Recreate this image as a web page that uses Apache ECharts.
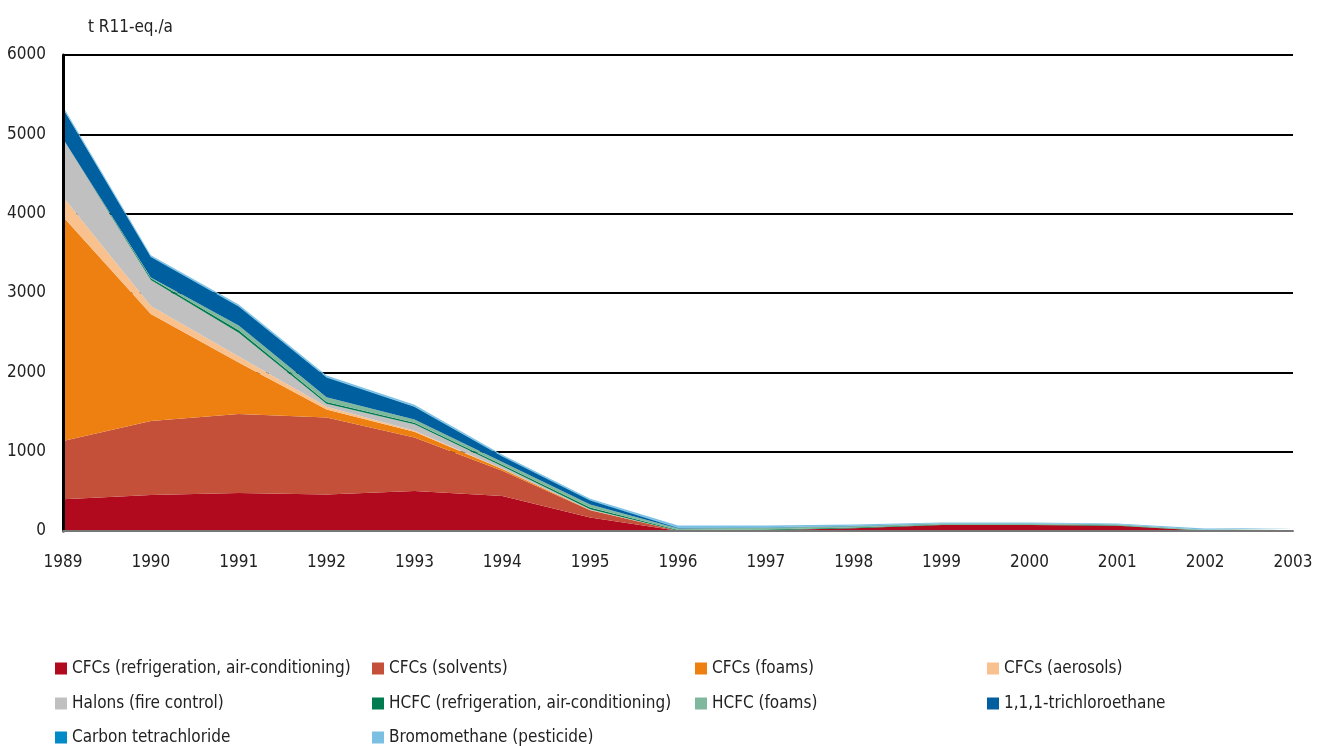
<!DOCTYPE html>
<html>
<head>
<meta charset="utf-8">
<script src="https://cdn.jsdelivr.net/npm/echarts@6/dist/echarts.min.js"></script>
<style>
html,body{margin:0;padding:0;background:#fff;}
#c{width:1325px;height:746px;}
</style>
</head>
<body>
<div id="c"></div>
<script>
var years = ['1989','1990','1991','1992','1993','1994','1995','1996','1997','1998','1999','2000','2001','2002','2003'];
var yTicks = [0, 1000, 2000, 3000, 4000, 5000, 6000];
var cfcRefrig   = [400, 455, 480, 460, 505, 440, 170, 3, 10, 35, 75, 75, 65, 2, 2];
var cfcSolvents = [735, 930, 995, 970, 675, 320, 90, 0, 0, 0, 0, 0, 0, 0, 0];
var cfcFoams    = [2825, 1350, 650, 100, 70, 20, 5, 0, 0, 0, 0, 0, 0, 0, 0];
var cfcAerosols = [250, 100, 75, 35, 15, 5, 0, 0, 0, 0, 0, 0, 0, 0, 0];
var halons      = [735, 330, 300, 40, 80, 30, 10, 0, 0, 0, 0, 0, 0, 0, 0];
var hcfcRefrig  = [0, 20, 30, 20, 20, 20, 20, 10, 10, 10, 8, 8, 8, 5, 10];
var hcfcFoams   = [0, 10, 60, 60, 40, 35, 40, 20, 20, 15, 10, 10, 8, 8, 15];
var trichloro   = [380, 260, 240, 250, 160, 70, 50, 5, 5, 3, 2, 2, 2, 0, 0];
var carbonTet   = [5, 5, 5, 5, 5, 5, 5, 5, 3, 2, 2, 2, 2, 2, 2];
var bromo       = [20, 15, 20, 20, 20, 15, 15, 25, 20, 18, 10, 10, 8, 15, 10];

var names = ['CFCs (refrigeration, air-conditioning)','CFCs (solvents)','CFCs (foams)','CFCs (aerosols)',
  'Halons (fire control)','HCFC (refrigeration, air-conditioning)','HCFC (foams)','1,1,1-trichloroethane',
  'Carbon tetrachloride','Bromomethane (pesticide)'];
var colors = ['#B10A1E','#C4503A','#EE8012','#F8C18E','#C0C0C0','#007A4F','#7FB89C','#005F9F','#008AC8','#7BBFE3'];
var dataSets = [cfcRefrig,cfcSolvents,cfcFoams,cfcAerosols,halons,hcfcRefrig,hcfcFoams,trichloro,carbonTet,bromo];

var FONT = '"Liberation Sans Narrow","Arial Narrow","DejaVu Sans Condensed",sans-serif';

var series = dataSets.map(function(d,i){
  return {
    name: names[i], type:'line', stack:'total', data:d,
    showSymbol:false, symbol:'none', smooth:false,
    lineStyle:{width:0}, areaStyle:{color:colors[i], opacity:1},
    itemStyle:{color:colors[i]}, emphasis:{disabled:true}, z:2
  };
});

var colLeft = [55, 372, 695, 987];
var rowTop = [660, 695, 729];
var legends = names.map(function(n, i){
  var col = i % 4, row = Math.floor(i / 4);
  return {
    orient:'horizontal', left:colLeft[col], top:rowTop[row], padding:0,
    itemWidth:12, itemHeight:12, itemGap:0,
    icon:'rect', selectedMode:false, data:[n],
    textStyle:{fontFamily:FONT, fontSize:17, color:'#222'}
  };
});

var chart = echarts.init(document.getElementById('c'), null, {renderer:'canvas'});
chart.setOption({
  animation:false,
  backgroundColor:'#fff',
  color: colors,
  title:{text:'t R11-eq./a', left:83, top:14, textStyle:{fontFamily:FONT, fontSize:17, fontWeight:'normal', color:'#222'}},
  grid:{left:63, right:32, top:55, bottom:215, containLabel:false},
  legend: legends,
  xAxis:{
    type:'category', data:years, boundaryGap:false, z:10,
    axisLine:{show:true, lineStyle:{color:'#777', width:2}},
    axisTick:{show:false},
    axisLabel:{fontFamily:FONT, fontSize:17, color:'#222', margin:23, interval:0},
    splitLine:{show:false}
  },
  yAxis:[{
    type:'value', min:0, max:6000, interval:1000, z:0,
    axisLine:{show:false},
    axisTick:{show:false},
    axisLabel:{fontFamily:FONT, fontSize:17, color:'#222', margin:17,
      formatter:function(v){ return yTicks.indexOf(v) >= 0 ? String(v) : ''; }},
    splitLine:{show:true, lineStyle:{color:'#000', width:2}}
  },{
    type:'value', min:0, max:6000, interval:1000, position:'left', z:10,
    axisLine:{show:true, onZero:false, lineStyle:{color:'#000', width:3}},
    axisTick:{show:false}, axisLabel:{show:false}, splitLine:{show:false}
  }],
  series: series
});
</script>
</body>
</html>
